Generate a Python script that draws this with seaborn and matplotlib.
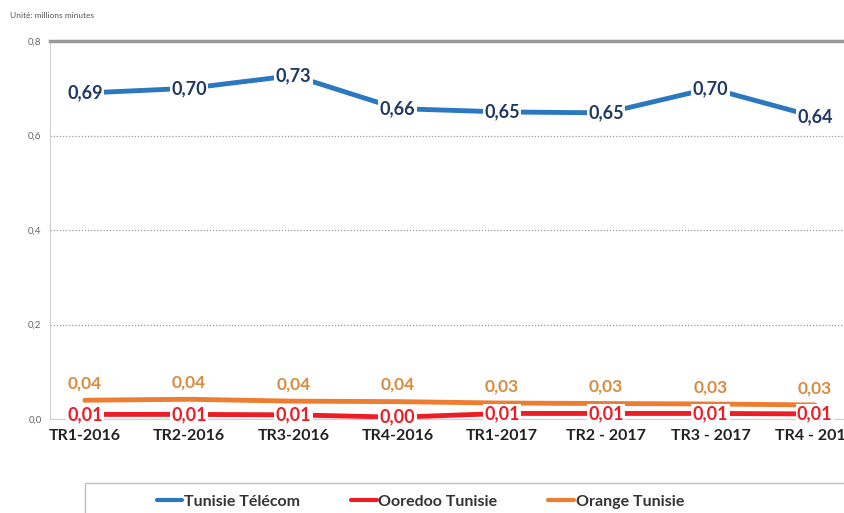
import matplotlib
matplotlib.use('Agg')
import matplotlib.pyplot as plt
from matplotlib.patches import Rectangle
import seaborn as sns
import pandas as pd

trimestres = ['TR1-2016', 'TR2-2016', 'TR3-2016', 'TR4-2016',
              'TR1-2017', 'TR2 - 2017', 'TR3 - 2017', 'TR4 - 2017']
tunisie_telecom = [0.69, 0.70, 0.727, 0.657, 0.65, 0.648, 0.70, 0.64]
ooredoo = [0.010, 0.010, 0.009, 0.004, 0.012, 0.012, 0.012, 0.011]
orange = [0.040, 0.042, 0.038, 0.037, 0.034, 0.033, 0.032, 0.030]
operateurs = ['Tunisie Télécom', 'Ooredoo Tunisie', 'Orange Tunisie']
couleurs = ['#2a78bf', '#ee1c25', '#ed7d31']
couleurs_txt = ['#1f3864', '#ee1c25', '#d98c3e']
yticks = [0.0, 0.2, 0.4, 0.6, 0.8]

series = [tunisie_telecom, ooredoo, orange]
df = pd.DataFrame({
    'trim': list(range(len(trimestres))) * 3,
    'valeur': tunisie_telecom + ooredoo + orange,
    'operateur': sum([[op] * len(trimestres) for op in operateurs], []),
})

sns.set_style('white')
plt.rcParams['font.family'] = ['Lato', 'DejaVu Sans']

fig = plt.figure(figsize=(8.45, 5.13), dpi=100)
ax = fig.add_axes([0.059, 0.183, 0.941, 0.737])

sns.lineplot(data=df, x='trim', y='valeur', hue='operateur', hue_order=operateurs,
             palette=couleurs, linewidth=3.5, ax=ax, legend=True)

# étiquettes de données
for vals, c, nom in zip(series, couleurs_txt, operateurs):
    for i, v in enumerate(vals):
        txt = f'{v:.2f}'.replace('.', ',')
        if nom == 'Orange Tunisie':
            ax.annotate(txt, (i, v), xytext=(0, 12), textcoords='offset points',
                        ha='center', va='center', fontsize=12.5, fontweight='bold', color=c)
        else:
            ax.text(i, v, txt, ha='center', va='center', fontsize=13, fontweight='bold',
                    color=c, bbox=dict(facecolor='white', edgecolor='none', pad=1.0))

ax.set_xlim(-0.336, 7.29)
ax.set_ylim(0, 0.8)
ax.set_xticks(range(len(trimestres)))
ax.set_xticklabels(trimestres, fontsize=11.5, fontweight='bold', color='#222222')
ax.set_yticks(yticks)
ax.set_yticklabels([f'{t:.1f}'.replace('.', ',') for t in yticks], fontsize=7, color='#666666')
ax.tick_params(axis='x', length=0, pad=7)
ax.tick_params(axis='y', length=0, pad=6)
ax.set_xlabel('')
ax.set_ylabel('')
ax.yaxis.grid(True, linestyle=(0, (1, 1.5)), color='#999999', linewidth=0.9)
ax.set_axisbelow(True)

ax.spines['right'].set_visible(False)
ax.spines['top'].set_color('#999999')
ax.spines['top'].set_linewidth(2.5)
ax.spines['left'].set_color('#d0d0d0')
ax.spines['bottom'].set_color('#d0d0d0')

fig.text(0.012, 0.965, 'Unité: millions minutes', fontsize=6, color='#555555')

# cadre de la légende
fig.patches.append(Rectangle((0.1, -0.1), 0.95, 0.1585, transform=fig.transFigure,
                             facecolor='white', edgecolor='#bfbfbf', linewidth=1))

h, l = ax.get_legend_handles_labels()
ax.get_legend().remove()
leg = fig.legend(h, l, loc='center left', bbox_to_anchor=(0.176, 0.022), ncol=3,
                 frameon=False, fontsize=11.5, handlelength=1.6, handletextpad=0.1,
                 columnspacing=3.2, borderpad=0)
for t in leg.get_texts():
    t.set_fontweight('bold')
    t.set_color('#333333')
for ln in leg.get_lines():
    ln.set_linewidth(3)

fig.savefig('out.png', dpi=100)
